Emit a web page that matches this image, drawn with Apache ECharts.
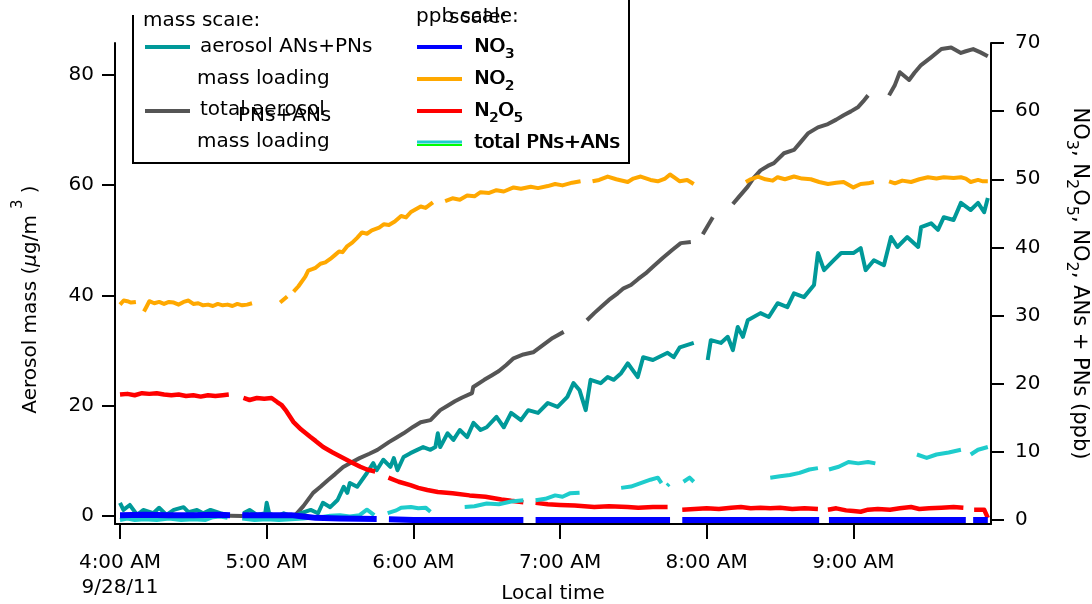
<!DOCTYPE html>
<html>
<head>
<meta charset="utf-8">
<script src="https://cdn.jsdelivr.net/npm/echarts@6/dist/echarts.min.js"></script>
<style>
  html, body { margin: 0; padding: 0; background: #fff; }
  #chart { width: 1092px; height: 604px; }
</style>
</head>
<body>
<div id="chart"></div>
<script>
// minutes after 4:00 AM, 9/28/11
const tickMinutes = [0, 60, 120, 180, 240, 300];
const tickLabels = ['4:00 AM\n9/28/11', '5:00 AM', '6:00 AM', '7:00 AM', '8:00 AM', '9:00 AM'];
const massTicks = [0, 20, 40, 60, 80];
const ppbTicks = [0, 10, 20, 30, 40, 50, 60, 70];

// mass scale (ug/m3), null = gap
const aerosolAnsPns = [
  [0, 2.4], [1.4, 1.1], [4, 2.0], [7, 0.2], [9.5, 1.1], [13.6, 0.5], [16, 1.5], [19, 0.2], [22, 1.1],
  [26, 1.6], [28, 0.7], [31.5, 1.1], [34, 0.5], [37, 1.1], [41, 0.5], [44, 0.2], [45, null],
  [50.5, 0.5], [53, 1.1], [56, 0.2], [59.4, 0.5], [60, 2.4], [61, 0.5], [64, -0.2], [67, 0.5],
  [71, -0.2], [74, 0.5], [78, 1.1], [81, 0.5], [83, 2.4], [86, 1.6], [89, 2.9], [91.5, 5.3],
  [93, 4.2], [94, 6.0], [97, 5.3], [101, 7.8], [103.6, 9.6], [105, 8.3], [107.7, 10.2],
  [110.6, 8.9], [112, 10.5], [113.5, 8.3], [116, 10.7], [118.8, 11.4], [121.6, 12.0], [124, 12.5],
  [127, 12.0], [129, 12.5], [130, 15.0], [131, 12.5], [134, 15.0], [136.4, 13.8], [139, 15.6],
  [142, 14.3], [144.6, 16.9], [147.5, 15.6], [150, 16.1], [154, 18.0], [157, 16.1], [160, 18.7],
  [164, 17.4], [167, 19.2], [171, 18.7], [175, 20.5], [179, 19.8], [183, 21.6], [185.5, 24.1],
  [188, 22.8], [190.5, 19.2], [192.5, 24.7], [196.6, 24.1], [199.5, 25.2], [202, 24.7], [205, 25.9],
  [207.7, 27.7], [211.8, 25.2], [214, 28.8], [218, 28.3], [224, 29.6], [226.5, 28.8], [229, 30.6],
  [234.7, 31.4], [237, null], [240.4, 28.3], [241.7, 31.9], [245.8, 31.4], [248.6, 32.5],
  [250.7, 30.1], [252.7, 34.3], [254.8, 32.5], [256.8, 35.5], [262, 36.8], [265.4, 36.1],
  [269, 38.6], [273, 37.9], [275.7, 40.4], [279.8, 39.7], [283.9, 41.9], [285.5, 47.7], [288, 44.6],
  [292, 46.4], [295, 47.7], [300, 47.7], [303, 48.6], [305, 44.6], [308.4, 46.4], [312.5, 45.5],
  [315.4, 50.6], [318, 48.8], [322, 50.6], [326.5, 48.8], [327.7, 52.4], [331.8, 53.1],
  [334.6, 51.9], [337, 54.2], [341, 53.7], [344, 56.8], [348, 55.5], [351, 56.8], [353.5, 55.1],
  [355, 57.7]
];

const totalAerosol = [
  [0, 0.1], [10, 0.0], [20, 0.1], [30, 0.0], [40, 0.1], [50, 0.0], [60, 0.1], [70, 0.1], [72, 0.3],
  [75, 1.8], [79, 4.2], [82, 5.3], [85, 6.5], [88, 7.6], [91.3, 8.9], [95, 9.8], [98, 10.5],
  [102, 11.3], [105.3, 12.0], [110, 13.4], [113, 14.2], [116, 15.0], [120, 16.2], [123, 17.0],
  [127, 17.4], [131, 19.2], [134, 20.0], [137, 20.8], [140, 21.5], [144, 22.3], [144.5, 23.4],
  [149, 24.7], [152, 25.5], [155, 26.3], [158, 27.4], [161, 28.6], [165, 29.3], [169, 29.7],
  [173, 31.0], [177, 32.3], [181.5, 33.4], [182, null], [191, 35.5], [194, 36.8], [197, 38.0],
  [200, 39.2], [203.6, 40.4], [206, 41.3], [209, 41.9], [212, 43.0], [215, 44.0], [218, 45.2],
  [222, 46.8], [226, 48.3], [229.4, 49.5], [233.5, 49.7], [234, null], [238.4, 51.1], [242.5, 54.2],
  [243, null], [250.7, 56.6], [253, 57.8], [256.7, 59.7], [259, 61.2], [262, 62.7], [265, 63.5],
  [267.5, 64.0], [271.6, 65.8], [275.7, 66.4], [278, 67.6], [281.4, 69.4], [285.5, 70.5],
  [289.6, 71.1], [293, 71.9], [296, 72.7], [299, 73.4], [302, 74.2], [304, 75.2], [306, 76.3],
  [306.5, null], [314.6, 76.3], [317, 78.2], [319, 80.5], [322.8, 79.1], [325, 80.4], [327.7, 81.8],
  [331.8, 83.2], [336, 84.7], [340, 85.0], [344, 84.0], [346, 84.3], [349, 84.7], [352, 84.1],
  [355, 83.4]
];

// ppb scale
const no3 = [
  [0, 0.7], [10, 0.75], [20, 0.7], [30, 0.7], [40, 0.75], [45, 0.7], [45.5, null], [50, 0.7],
  [60, 0.7], [70, 0.7], [75, 0.5], [80, 0.3], [90, 0.2], [105, 0.15], [105.5, null], [110, 0.1],
  [120, 0.0], [165, 0.0], [165.5, null], [170, 0.0], [225, 0.0], [225.5, null], [230, 0.0],
  [286, 0.0], [286.5, null], [290, 0.0], [346, 0.0], [346.5, null], [349, 0.0], [355, 0.0]
];

const no2 = [
  [0, 31.6], [1.5, 32.2], [3, 32.1], [4.5, 31.9], [6.5, 32.0], [7, null], [9.8, 30.6], [11, 31.4],
  [12, 32.1], [14, 31.8], [16, 32.0], [18, 31.7], [20, 32.0], [22, 31.9], [24, 31.6], [26, 32.0],
  [28, 32.2], [30, 31.7], [32, 31.8], [34, 31.5], [36, 31.6], [38, 31.4], [40, 31.7], [42, 31.5],
  [44, 31.6], [46, 31.4], [48, 31.7], [50, 31.5], [52, 31.6], [54, 31.8], [55, null], [65.5, 31.9],
  [68.4, 32.8], [69, null], [71, 33.5], [73, 34.3], [75.8, 35.7], [77, 36.6], [78.6, 36.8],
  [80, 37.0], [82, 37.6], [84, 37.8], [86, 38.3], [88, 38.9], [89.6, 39.4], [91, 39.3], [93, 40.2],
  [95, 40.7], [97, 41.4], [99, 42.2], [101, 42.0], [103, 42.5], [106, 42.9], [108, 43.4],
  [110, 43.3], [112.4, 43.8], [115, 44.6], [117, 44.4], [119, 45.2], [121, 45.6], [123, 46.0],
  [125, 45.8], [128, 46.6], [129, null], [133, 46.8], [136, 47.2], [139, 47.0], [142, 47.6],
  [145, 47.5], [147.5, 48.1], [151, 48.0], [154, 48.4], [157, 48.2], [161, 48.8], [164, 48.6],
  [168, 48.9], [171, 48.7], [175, 49.0], [178, 49.3], [181, 49.1], [185, 49.5], [188.4, 49.7],
  [189, null], [193.3, 49.7], [196, 49.9], [199.5, 50.4], [203, 50.0], [207.7, 49.6], [210, 50.1],
  [213, 50.4], [217, 49.9], [220, 49.7], [223, 50.1], [225, 50.7], [227, 50.2], [229, 49.7],
  [232, 49.9], [234.7, 49.3], [235, null], [256, 49.6], [258, 50.0], [261, 50.4], [264, 50.0],
  [267, 49.8], [269, 50.3], [272, 50.0], [275.7, 50.4], [279, 50.1], [282.6, 50.0], [286, 49.6],
  [289.6, 49.3], [293, 49.5], [296, 49.6], [298, 49.2], [300, 48.8], [303, 49.3], [306, 49.4],
  [308.4, 49.6], [309, null], [314.6, 49.7], [317, 49.4], [320, 49.8], [323.6, 49.6], [327, 50.0],
  [330.5, 50.3], [334, 50.1], [337, 50.3], [341, 50.2], [344, 50.3], [346, 50.1], [348, 49.6],
  [351, 49.9], [353, 49.7], [355, 49.7]
];

const n2o5 = [
  [0, 18.4], [3, 18.5], [6, 18.3], [9, 18.6], [12, 18.5], [15, 18.6], [18, 18.4], [21, 18.3],
  [24, 18.4], [27, 18.2], [30, 18.3], [33, 18.1], [36, 18.3], [39, 18.2], [42, 18.3], [44.5, 18.4],
  [45, null], [50.5, 17.9], [53, 17.6], [56, 17.9], [59, 17.8], [62, 17.9], [64.3, 17.3],
  [66, 16.9], [68, 16.0], [70.9, 14.4], [74, 13.3], [77.8, 12.2], [80, 11.6], [83.1, 10.7],
  [87, 9.9], [91.3, 9.1], [95, 8.4], [98.3, 7.8], [101, 7.4], [104.4, 7.1], [105, null],
  [109.8, 6.2], [114, 5.6], [118.8, 5.1], [122, 4.7], [125.7, 4.4], [130, 4.1], [136, 3.9],
  [143, 3.6], [149.5, 3.4], [156, 3.0], [160, 2.8], [165, 2.6], [166, null], [170, 2.5],
  [175, 2.3], [180, 2.2], [186, 2.1], [190, 2.0], [194, 1.9], [200, 2.0], [207.7, 1.9], [212, 1.8],
  [218, 1.9], [224, 1.9], [225, null], [230, 1.5], [235, 1.6], [240, 1.7], [245, 1.6], [250, 1.8],
  [254, 1.9], [258, 1.7], [262, 1.8], [266, 1.7], [270, 1.8], [275, 1.6], [280, 1.7], [285.5, 1.6],
  [286, null], [289.6, 1.5], [293, 1.7], [297, 1.4], [300, 1.3], [303, 1.2], [306, 1.5], [310, 1.6],
  [315, 1.5], [319, 1.7], [323.6, 1.9], [327, 1.6], [331, 1.7], [336, 1.8], [341, 1.9], [345, 1.8],
  [346, null], [349.4, 1.5], [353.5, 1.5], [355, 0.3]
];

const totalPnsAns = [
  [0, 0.0], [3, 0.2], [6, 0.0], [10, 0.1], [15, 0.0], [20, 0.2], [25, 0.0], [30, 0.1], [35, 0.0],
  [38, 0.4], [41, 0.5], [44, 0.3], [45, null], [50, 0.2], [55, 0.0], [60, 0.1], [65, 0.0],
  [70, 0.1], [75, 0.2], [78, 0.3], [82, 0.4], [86, 0.6], [90, 0.7], [94, 0.5], [98, 0.7],
  [101, 1.5], [104, 0.7], [105, null], [109.5, 1.0], [113, 1.4], [115, 1.8], [119, 1.9],
  [122, 1.7], [125, 1.8], [127, 1.2], [128, null], [141, 1.9], [145, 2.0], [150, 2.4], [155, 2.3],
  [160, 2.7], [165, 2.9], [166, null], [170, 2.9], [174, 3.1], [178, 3.6], [181, 3.4], [184, 3.9],
  [188, 4.0], [189, null], [205, 4.7], [209, 4.9], [213, 5.4], [217, 5.9], [220, 6.2],
  [221.5, 5.4], [222, null], [223.8, 5.0], [224.6, 5.3], [225, null], [230.5, 5.6], [233, 6.2],
  [234.7, 5.6], [235, null], [266, 6.2], [270, 6.4], [274, 6.6], [278, 6.9], [282, 7.4],
  [285.5, 7.6], [286, null], [290, 7.4], [294, 7.8], [298, 8.5], [302, 8.3], [306, 8.5],
  [309, 8.3], [310, null], [326, 9.6], [330, 9.1], [334, 9.6], [339, 9.9], [344, 10.3],
  [345, null], [348, 9.6], [351, 10.3], [355, 10.7]
];

const FONT = 'DejaVu Sans';

function toSeriesData(points) {
  return points.map((p) => [p[0], p[1] === null ? '-' : p[1]]);
}

function makeLine(name, points, color, width, yAxisIndex) {
  return {
    name,
    type: 'line',
    yAxisIndex,
    data: toSeriesData(points),
    showSymbol: false,
    connectNulls: false,
    lineStyle: { color, width, cap: 'butt', join: 'round' },
    itemStyle: { color },
    silent: true,
  };
}

// main + subscript tokens for rich text
function subRich(size, subSize, lineHeight) {
  return {
    n: { fontSize: size, fontFamily: FONT, color: '#000', verticalAlign: 'top', lineHeight },
    s: { fontSize: subSize, fontFamily: FONT, color: '#000', verticalAlign: 'bottom', lineHeight },
  };
}

function legendText(text, x, y, extra) {
  return {
    type: 'text',
    x,
    y,
    z: 101,
    style: Object.assign({
      text,
      fill: '#000',
      fontSize: 20,
      fontFamily: FONT,
      verticalAlign: 'middle',
    }, extra || {}),
  };
}

function legendSub(text, x, y) {
  return legendText(text, x, y, { rich: subRich(20, 14, 25) });
}

function legendSwatch(x1, x2, y, color, width) {
  return {
    type: 'line',
    z: 101,
    shape: { x1, y1: y, x2, y2: y },
    style: { stroke: color, lineWidth: width || 4 },
  };
}

const chart = echarts.init(document.getElementById('chart'), null, { renderer: 'canvas' });

const axisCommon = {
  axisLine: { show: true, onZero: false, lineStyle: { color: '#000', width: 2 } },
  splitLine: { show: false },
  axisLabel: { color: '#000', fontSize: 20, fontFamily: FONT },
  nameTextStyle: { color: '#000', fontSize: 20, fontFamily: FONT },
};

const option = {
  animation: false,
  backgroundColor: '#fff',
  grid: {
    left: 115, right: 101, top: 43, bottom: 80,
    containLabel: false,
    outerBoundsMode: 'none',
  },
  xAxis: {
    type: 'value',
    min: -2.05,
    max: 356.3,
    axisLine: axisCommon.axisLine,
    splitLine: { show: false },
    axisTick: {
      show: true, length: 15, inside: false,
      customValues: tickMinutes,
      lineStyle: { color: '#000', width: 2 },
    },
    axisLabel: {
      ...axisCommon.axisLabel,
      margin: 26,
      lineHeight: 25,
      customValues: tickMinutes,
      formatter: (v) => tickLabels[tickMinutes.indexOf(v)] || '',
    },
    name: 'Local time',
    nameLocation: 'middle',
    nameGap: 60,
    nameMoveOverlap: false,
    nameTextStyle: axisCommon.nameTextStyle,
  },
  yAxis: [
    {
      type: 'value',
      position: 'left',
      min: -1.45,
      max: 85.8,
      axisLine: axisCommon.axisLine,
      splitLine: { show: false },
      axisTick: {
        show: true, length: 13,
        customValues: massTicks,
        lineStyle: { color: '#000', width: 2 },
      },
      axisLabel: { ...axisCommon.axisLabel, margin: 21, customValues: massTicks },
      name: '{n|Aerosol mass (}{i|μ}{n|g/m}{s|3}{n| )}',
      nameLocation: 'middle',
      nameRotate: 90,
      nameGap: 74,
      nameMoveOverlap: false,
      nameTextStyle: {
        ...axisCommon.nameTextStyle,
        padding: [0, 32, 0, 0],
        rich: {
          n: { fontSize: 20, fontFamily: FONT, color: '#000', verticalAlign: 'bottom', lineHeight: 30 },
          i: { fontSize: 20, fontFamily: FONT, color: '#000', fontStyle: 'italic', verticalAlign: 'bottom', lineHeight: 30 },
          s: { fontSize: 15, fontFamily: FONT, color: '#000', verticalAlign: 'top', lineHeight: 30, padding: [0, 0, 0, 6] },
        },
      },
    },
    {
      type: 'value',
      position: 'right',
      min: -0.6,
      max: 70,
      axisLine: axisCommon.axisLine,
      splitLine: { show: false },
      axisTick: {
        show: true, length: 13,
        customValues: ppbTicks,
        lineStyle: { color: '#000', width: 2 },
      },
      axisLabel: { ...axisCommon.axisLabel, margin: 24, customValues: ppbTicks },
      name: '{n|NO}{s|3}{n|, N}{s|2}{n|O}{s|5}{n|, NO}{s|2}{n|, ANs + PNs (ppb)}',
      nameLocation: 'middle',
      nameRotate: -90,
      nameGap: 72,
      nameMoveOverlap: false,
      nameTextStyle: {
        ...axisCommon.nameTextStyle,
        rich: subRich(21, 16, 27),
      },
    },
  ],
  series: [
    makeLine('total aerosol mass loading', totalAerosol, '#555555', 4, 0),
    makeLine('aerosol ANs+PNs mass loading', aerosolAnsPns, '#009999', 4, 0),
    makeLine('NO2', no2, '#ffa800', 4, 1),
    makeLine('N2O5', n2o5, '#ff0000', 4.5, 1),
    makeLine('total PNs+ANs', totalPnsAns, '#1ecccc', 4, 1),
    makeLine('NO3', no3, '#0000ff', 6, 1),
  ],
  graphic: [
    {
      type: 'rect',
      z: 100,
      shape: { x: 133, y: -10, width: 496, height: 173 },
      style: { fill: '#fff', stroke: '#000', lineWidth: 2 },
    },
    legendText('mass scale:', 143, 21),
    {
      type: 'rect',
      z: 102,
      shape: { x: 125, y: -5, width: 285, height: 20 },
      style: { fill: '#fff' },
    },
    legendSwatch(145, 190, 47, '#009999'),
    legendText('aerosol ANs+PNs', 200, 47),
    legendText('mass loading', 197, 79),
    legendSwatch(145, 190, 111, '#555555'),
    legendText('total aerosol', 200, 110),
    legendText('PNs+ANs', 238, 116),
    legendText('mass loading', 197, 142),

    legendText('ppb scale:', 416, 17),
    legendText('scale:', 449, 18),
    legendSwatch(417, 462, 47, '#0000ff'),
    legendSub('{n|NO}{s|3}', 474, 49),
    legendSub('{n|NO}{s|3}', 475, 49),
    legendSwatch(417, 462, 79, '#ffa800'),
    legendSub('{n|NO}{s|2}', 474, 81),
    legendSub('{n|NO}{s|2}', 475, 81),
    legendSwatch(417, 462, 111, '#ff0000'),
    legendSub('{n|N}{s|2}{n|O}{s|5}', 474, 113),
    legendSub('{n|N}{s|2}{n|O}{s|5}', 475, 113),
    legendSwatch(417, 462, 145, '#00ff00', 2),
    legendSwatch(417, 462, 142, '#1ecccc', 3),
    legendText('total PNs+ANs', 474, 143),
    legendText('total PNs+ANs', 475, 143),
  ],
};

chart.setOption(option);
</script>
</body>
</html>
